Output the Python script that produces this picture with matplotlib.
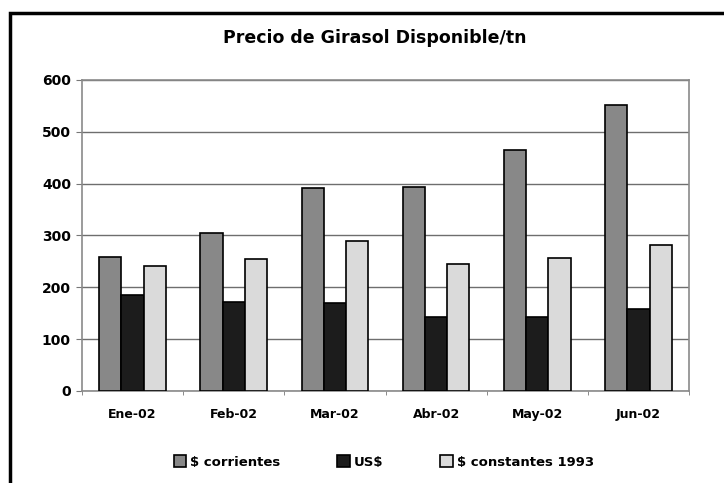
import matplotlib
matplotlib.use('Agg')
import matplotlib.pyplot as plt
import numpy as np
from matplotlib.patches import Rectangle

meses = ['Ene-02', 'Feb-02', 'Mar-02', 'Abr-02', 'May-02', 'Jun-02']
corrientes = [259, 304, 391, 394, 465, 551]
usd = [185, 171, 169, 143, 143, 158]
constantes = [242, 255, 290, 245, 256, 282]

plt.rcParams['font.family'] = ['DejaVu Sans']

fig = plt.figure(figsize=(7.24, 4.83), dpi=100)
ax = fig.add_axes([0.1133, 0.1905, 0.8384, 0.6439])

# marco exterior (cortado a la derecha y abajo)
fig.patches.append(Rectangle((10 / 724, -0.05), 1.0, 1 - 13 / 483 + 0.05,
                             transform=fig.transFigure, fill=False,
                             edgecolor='black', linewidth=2.5))

x = np.arange(len(meses))
w = 0.22
ax.bar(x - w, corrientes, w, color='#888888', edgecolor='black', linewidth=1.2,
       label='$ corrientes', zorder=3)
ax.bar(x, usd, w, color='#1c1c1c', edgecolor='black', linewidth=1.2,
       label='US$', zorder=3)
ax.bar(x + w, constantes, w, color='#dadada', edgecolor='black', linewidth=1.2,
       label='$ constantes 1993', zorder=3)

ax.set_xlim(-0.5, len(meses) - 0.5)
ax.set_ylim(0, 600)
ax.set_yticks(range(0, 601, 100))
ax.grid(axis='y', color='#6e6e6e', linewidth=1.0, zorder=0)
ax.set_xticks(x)
ax.set_xticklabels(meses, fontweight='bold', fontsize=9)
ax.set_xticks(np.arange(-0.5, len(meses), 1), minor=True)
ax.tick_params(axis='x', which='major', length=0, pad=12)
ax.tick_params(axis='x', which='minor', length=3, color='#777777', direction='out')
ax.tick_params(axis='y', length=4, color='#777777', pad=4)
for lab in ax.get_yticklabels():
    lab.set_fontweight('bold')
    lab.set_fontsize(10)
for s in ax.spines.values():
    s.set_color('#8a8a8a')
    s.set_linewidth(1.2)

fig.text(0.518, 1 - 38 / 483, 'Precio de Girasol Disponible/tn', ha='center',
         va='center', fontsize=12.5, fontweight='bold')

leg = fig.legend(loc='center', bbox_to_anchor=(0.53, 1 - 462 / 483), ncol=3,
                 frameon=False, fontsize=9.5, handlelength=0.95, handleheight=0.95,
                 handletextpad=0.3, columnspacing=4.3, borderaxespad=0)
for t in leg.get_texts():
    t.set_fontweight('bold')

fig.savefig('out.png', dpi=100)
